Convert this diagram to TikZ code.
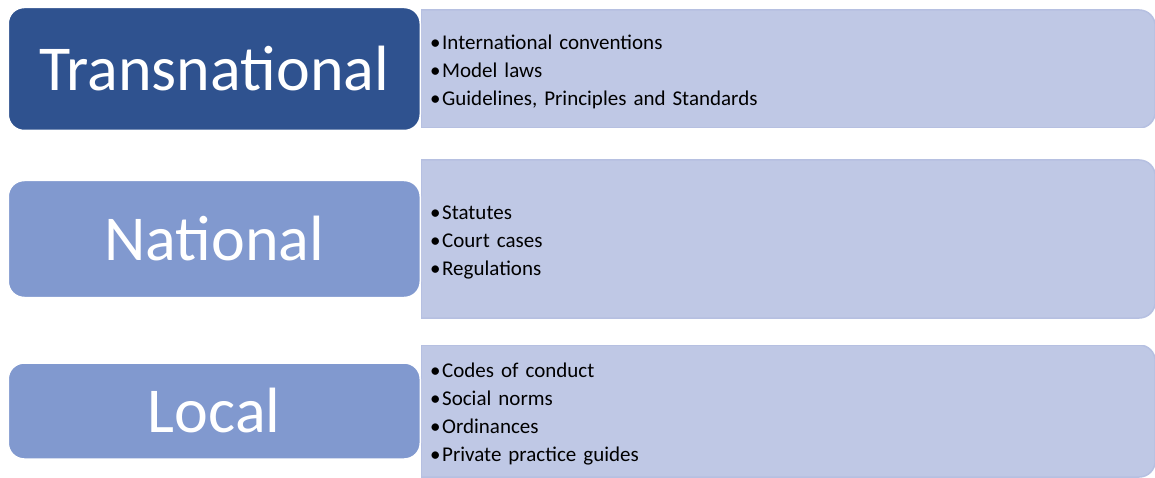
\documentclass[tikz,border=0pt]{standalone}
\usepackage{fontspec}
\setmainfont{Carlito}
\usetikzlibrary{positioning}
\definecolor{darklevel}{RGB}{47,82,143}
\definecolor{lightlevel}{RGB}{129,153,207}
\definecolor{listfill}{RGB}{191,200,229}
\definecolor{listline}{RGB}{182,192,225}
% list background: square on the left, rounded on the right
\newcommand*\listback{%
    \filldraw[fill=listfill,draw=listline,line width=1.5pt]
        (path picture bounding box.north west)
        -- (path picture bounding box.south west)
        -- ([xshift=-16pt]path picture bounding box.south east)
        arc[start angle=-90,end angle=0,radius=16pt]
        -- ([yshift=-16pt]path picture bounding box.north east)
        arc[start angle=0,end angle=90,radius=16pt]
        -- cycle;%
}
\newcommand*\bulletline[1]{•\hspace{1.5pt}#1}
\begin{document}
\begin{tikzpicture}
    [%
        x=1pt,y=-1pt,%
        level/.style={%
            draw=white,%
            line width=1.5pt,%
            rounded corners=16pt,%
            text=white,%
            minimum width=412pt,%
            inner sep=0pt,%
            font=\fontsize{64}{76}\selectfont%
        },%
        list/.style={%
            anchor=west,%
            text width=716pt,%
            inner xsep=9pt,%
            align=left,%
            font=\fontsize{21}{28}\selectfont,%
            execute at begin node={\rule{0pt}{20pt}},%
            path picture={\listback}%
        }%
    ]%
    \useasboundingbox (0,0) rectangle (1155,478);
%
    \node[list, minimum height=118pt] (trans-list) at (421,69) {%
        \bulletline{International conventions}\\
        \bulletline{Model laws}\\
        \bulletline{Guidelines, Principles and Standards}};
    \node[list, minimum height=158pt] (nat-list) at (421,239) {%
        \bulletline{Statutes}\\
        \bulletline{Court cases}\\
        \bulletline{Regulations}};
    \node[list, minimum height=132pt] (loc-list) at (421,411) {%
        \bulletline{Codes of conduct}\\
        \bulletline{Social norms}\\
        \bulletline{Ordinances}\\
        \bulletline{Private practice guides}};
%
    \node[level, fill=darklevel, minimum height=123pt, left=0pt of trans-list] (trans) {Transnational};
    \node[level, fill=lightlevel, minimum height=117pt, left=0pt of nat-list] (nat) {National};
    \node[level, fill=lightlevel, minimum height=96pt, left=0pt of loc-list] (loc) {Local};
\end{tikzpicture}
\end{document}
